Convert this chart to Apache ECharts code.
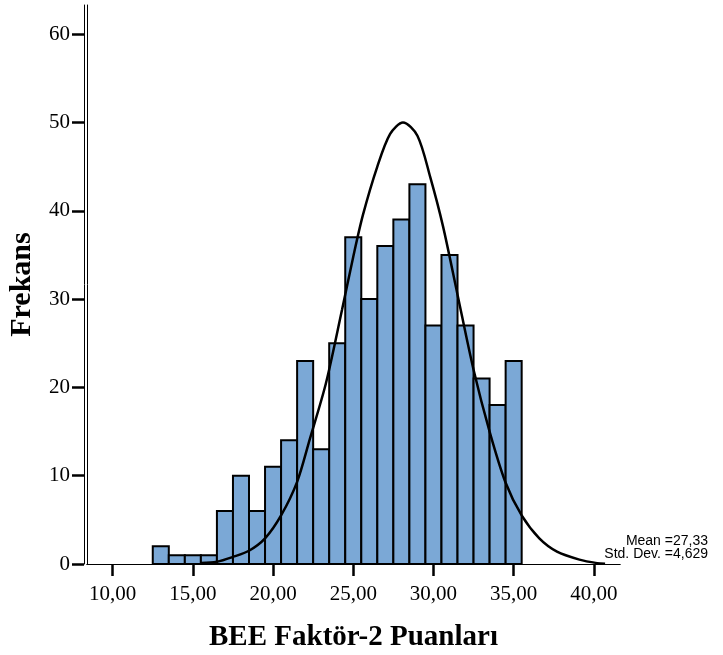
<!DOCTYPE html>
<html>
<head>
<meta charset="utf-8">
<title>BEE Faktör-2 Puanları</title>
<script src="https://cdn.jsdelivr.net/npm/echarts@6.0.0/dist/echarts.min.js"></script>
<style>
  html, body { margin: 0; padding: 0; background: #fff; }
  #hist { width: 723px; height: 655px; }
</style>
</head>
<body>
<div id="hist"></div>
<script>
// histogram bins (centre of each 1-point bin) and their counts
var binCenters = [13, 14, 15, 16, 17, 18, 19, 20, 21, 22, 23, 24, 25, 26, 27, 28, 29, 30, 31, 32, 33, 34, 35];
var binCounts = [2, 1, 1, 1, 6, 10, 6, 11, 14, 23, 13, 25, 37, 30, 36, 39, 43, 27, 35, 27, 21, 18, 23];
var binWidth = 1;

// normal curve, points
var curveX = [15.5, 16.5, 17.5, 18.5, 19.5, 20.5, 21.5, 22.3, 23.3, 24.3, 25.0, 25.6, 26.5, 27.3, 28.1,
  29.0, 29.8, 30.6, 31.5, 32.5, 33.5, 34.5, 35.5, 36.6, 37.7, 39.1, 40.2, 40.7];
var curveY = [0.1, 0.25, 0.8, 1.5, 2.9, 5.5, 9.3, 14.2, 20.5, 28.8, 34.8, 39.5, 45.0, 48.7, 50.0,
  48.5, 43.8, 38.2, 30.5, 22.0, 15.0, 9.2, 5.5, 2.9, 1.4, 0.5, 0.1, 0.03];

var xTicks = [10, 15, 20, 25, 30, 35, 40];
var yTicks = [0, 10, 20, 30, 40, 50, 60];

var statsText = 'Mean =27,33\nStd. Dev. =4,629';

var serif = '"Liberation Serif", "DejaVu Serif", serif';
var xMin = 8.4, xMax = 41.63;
var yMin = 0, yMax = 63.3;

var bars = binCenters.map(function (c, i) { return [c, binCounts[i]]; });
var curve = curveX.map(function (x, i) { return [x, curveY[i]]; });

var chart = echarts.init(document.getElementById('hist'));

var option = {
  backgroundColor: '#fff',
  animation: false,
  grid: { left: 87, right: 103, top: 5, bottom: 91, outerBoundsMode: 'none', containLabel: false },
  xAxis: [
    {
      type: 'value',
      position: 'bottom',
      min: xMin,
      max: xMax,
      offset: 3,
      splitLine: { show: false },
      axisLine: { show: true, lineStyle: { color: '#000', width: 1 } },
      axisTick: { show: true, length: 12, lineStyle: { color: '#000', width: 2.5 }, customValues: xTicks },
      axisLabel: {
        margin: 17,
        color: '#000',
        fontFamily: serif,
        fontSize: 21,
        customValues: xTicks,
        formatter: function (v) { return v.toFixed(2).replace('.', ','); }
      },
      name: 'BEE Faktör-2 Puanları',
      nameLocation: 'middle',
      nameGap: 56,
      nameTextStyle: { color: '#000', fontFamily: serif, fontSize: 29, fontWeight: 'bold' }
    },
    {
      // inner frame line
      type: 'value',
      position: 'bottom',
      min: xMin,
      max: xMax,
      offset: 0,
      splitLine: { show: false },
      axisLine: { show: true, lineStyle: { color: '#000', width: 1 } },
      axisTick: { show: false },
      axisLabel: { show: false }
    }
  ],
  yAxis: [
    {
      type: 'value',
      position: 'left',
      min: yMin,
      max: yMax,
      offset: 3,
      splitLine: { show: false },
      axisLine: { show: true, lineStyle: { color: '#000', width: 1 } },
      axisTick: { show: true, length: 12, lineStyle: { color: '#000', width: 2.5 }, customValues: yTicks },
      axisLabel: {
        margin: 14,
        color: '#000',
        fontFamily: serif,
        fontSize: 21,
        customValues: yTicks
      },
      name: 'Frekans',
      nameLocation: 'middle',
      nameGap: 47,
      nameTextStyle: { color: '#000', fontFamily: serif, fontSize: 30, fontWeight: 'bold' }
    },
    {
      type: 'value',
      position: 'left',
      min: yMin,
      max: yMax,
      offset: 0,
      splitLine: { show: false },
      axisLine: { show: true, lineStyle: { color: '#000', width: 1 } },
      axisTick: { show: false },
      axisLabel: { show: false }
    }
  ],
  graphic: [
    {
      type: 'text',
      right: 15,
      top: 534,
      style: {
        text: statsText,
        fill: '#000',
        font: '14px "Liberation Sans", Arial, sans-serif',
        lineHeight: 13,
        textAlign: 'right'
      }
    }
  ],
  series: [
    {
      name: 'Frekans',
      type: 'custom',
      xAxisIndex: 0,
      yAxisIndex: 0,
      data: bars,
      encode: { x: 0, y: 1 },
      renderItem: function (params, api) {
        var x = api.value(0);
        var y = api.value(1);
        var p0 = api.coord([x - binWidth / 2, y]);
        var p1 = api.coord([x + binWidth / 2, 0]);
        return {
          type: 'rect',
          shape: { x: p0[0], y: p0[1], width: p1[0] - p0[0], height: p1[1] - p0[1] },
          style: { fill: '#7BA8D6', stroke: '#000', lineWidth: 2 }
        };
      },
      z: 2
    },
    {
      name: 'Normal',
      type: 'line',
      xAxisIndex: 0,
      yAxisIndex: 0,
      data: curve,
      smooth: 0.3,
      showSymbol: false,
      lineStyle: { color: '#000', width: 2.5 },
      z: 3
    }
  ]
};

chart.setOption(option);
</script>
</body>
</html>
